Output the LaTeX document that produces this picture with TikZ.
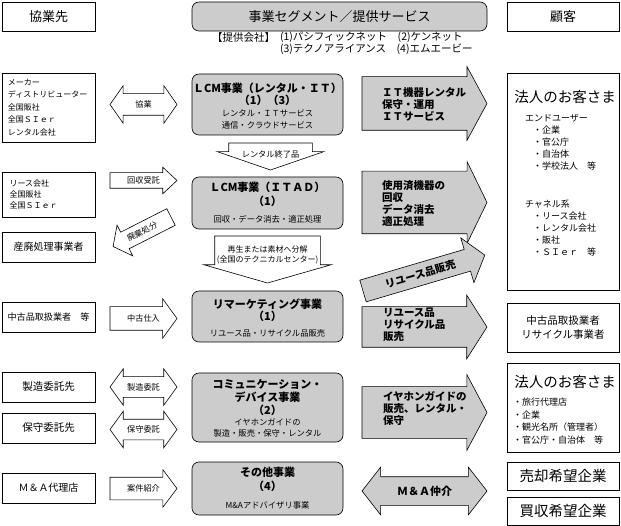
\documentclass[tikz,border=0pt]{standalone}
\usepackage{fontspec}
\setmainfont{Noto Sans CJK JP}
\usetikzlibrary{positioning}
\usetikzlibrary{calc}
\usetikzlibrary{shapes.arrows}

\newcommand{\fsz}[2]{\fontsize{#1}{#2}\selectfont}

\tikzset{
  partner/.style = {draw, fill=white, minimum width=93pt},
  seg/.style = {draw, fill=gray!40, rounded corners=7pt, minimum width=151pt},
  client/.style = {draw, fill=white, minimum width=112pt},
  warrow/.style = {single arrow, draw, fill=white, single arrow head indent=0pt},
  garrow/.style = {single arrow, draw, fill=gray!40, single arrow head indent=0pt},
  wdarrow/.style = {double arrow, draw, fill=white, double arrow head indent=0pt},
  gdarrow/.style = {double arrow, draw, fill=gray!40, double arrow head indent=0pt},
  hdtext/.style = {font=\fsz{13}{15}},
  lbltext/.style = {font=\fsz{8.2}{10}},
  segtitle/.style = {align=center, font=\bfseries\fsz{11}{12}},
  segsub/.style = {align=center, font=\fsz{8.3}{12}},
  gtext/.style = {anchor=west, align=left, font=\bfseries\fsz{10.5}{11.8}},
  custtitle/.style = {font=\fsz{14.5}{16}},
  custlist/.style = {anchor=west, align=left, font=\fsz{9}{12}}
}

\begin{document}
\begin{tikzpicture}
  [x=1pt, y=-1pt,
   every node/.style = {inner sep=0pt, outer sep=0pt, line width=0.6pt}]
  \path[fill=white] (0,0) rectangle (621,526);
  \useasboundingbox (0,0) rectangle (621,526);

  % partners
  \node[partner, minimum height=29pt, hdtext] (hdrL) at (48.5,16.5) {協業先};
  \node[partner, minimum height=69pt, text width=81pt, align=left, font=\fsz{8}{12.4}] (maker) at (48.5,107.5)
    {メーカー\\ディストリビューター\\全国販社\\全国ＳＩｅｒ\\レンタル会社};
  \node[partner, minimum height=45pt, text width=78pt, align=left, font=\fsz{8}{11}] (lease) at (48.5,194.5)
    {リース会社\\全国販社\\全国ＳＩｅｒ};
  \node[partner, minimum height=30pt, font=\fsz{10}{12}] (sanpai) at (48.5,247) {産廃処理事業者};
  \node[partner, minimum height=30pt, font=\fsz{9.1}{11}] (chuko) at (48.5,317) {中古品取扱業者　等};
  \node[partner, minimum height=30pt, font=\fsz{10.5}{12}] (seizo) at (48.5,387) {製造委託先};
  \node[partner, minimum height=30pt, font=\fsz{10.5}{12}] (hoshu) at (48.5,428) {保守委託先};
  \node[partner, minimum height=30pt, font=\fsz{10}{12}] (agent) at (48.5,488) {Ｍ＆Ａ代理店};

  % segments
  \node[seg, minimum width=295pt, minimum height=29pt, hdtext] (hdrM) at (339.5,16.5) {事業セグメント／提供サービス};
  \node[anchor=west, font=\fsz{10.5}{12}] (corp) at (212,37.5) {【提供会社】};
  \node[anchor=west, font=\fsz{10.5}{12}] (corp1) at (280,37.5) {(1)パシフィックネット　(2)ケンネット};
  \node[anchor=west, font=\fsz{10.5}{12}] (corp2) at (280,49) {(3)テクノアライアンス　(4)エムエービー};

  \node[seg, minimum height=61pt] (lcmRent) at (267.5,104.5) {};
  \node[segtitle] (lcmRentT) at (267.5,94) {ＬCM事業（レンタル・ＩＴ）\\（1）（3）};
  \node[segsub] (lcmRentS) at (267.5,119) {レンタル・ＩＴサービス\\通信・クラウドサービス};

  \node[seg, minimum height=52pt] (lcmItad) at (267.5,203) {};
  \node[segtitle, font=\bfseries\fsz{11}{14}] (lcmItadT) at (267.5,194) {ＬCM事業（ＩＴＡＤ）\\（1）};
  \node[segsub] (lcmItadS) at (267.5,219) {回収・データ消去・適正処理};

  \node[seg, minimum height=51pt] (remk) at (267.5,316.5) {};
  \node[segtitle] (remkT) at (267.5,310) {リマーケティング事業\\（1）};
  \node[segsub] (remkS) at (267.5,333) {リユース品・リサイクル品販売};

  \node[seg, minimum height=69pt] (comm) at (267.5,407.5) {};
  \node[segtitle, font=\bfseries\fsz{11}{13}] (commT) at (267.5,398) {コミュニケーション・\\デバイス事業\\（2）};
  \node[segsub, font=\fsz{8.3}{10.5}] (commS) at (267.5,428) {イヤホンガイドの\\製造・販売・保守・レンタル};

  \node[seg, minimum height=53pt] (other) at (267.5,488.5) {};
  \node[segtitle, font=\bfseries\fsz{11}{14}] (otherT) at (267.5,479) {その他事業\\（4）};
  \node[segsub] (otherS) at (267.5,505) {M\&Aアドバイザリ事業};

  % clients
  \node[client, minimum height=29pt, hdtext] (hdrR) at (563,16.5) {顧客};
  \node[client, minimum height=217pt] (custA) at (563,181.5) {};
  \node[custtitle] (custAT) at (565,97) {法人のお客さま};
  \node[custlist] (custAE) at (525,118) {エンドユーザー};
  \node[custlist] (custAEl) at (533,148) {・企業\\・官公庁\\・自治体\\・学校法人　等};
  \node[custlist] (custAC) at (525,204) {チャネル系};
  \node[custlist] (custACl) at (533,234) {・リース会社\\・レンタル会社\\・販社\\・ＳＩｅｒ　等};
  \node[client, minimum height=49pt, align=center, font=\fsz{10.5}{14}] (custUsed) at (563,327.5)
    {中古品取扱業者\\リサイクル事業者};
  \node[client, minimum height=89pt] (custB) at (563,407.5) {};
  \node[custtitle] (custBT) at (565,382) {法人のお客さま};
  \node[custlist, font=\fsz{9}{12.7}] (custBl) at (513,421) {・旅行代理店\\・企業\\・観光名所（管理者）\\・官公庁・自治体　等};
  \node[client, minimum height=28pt, custtitle] (seller) at (563,476) {売却希望企業};
  \node[client, minimum height=28pt, custtitle] (buyer) at (563,511) {買収希望企業};

  % arrows between partners and segments
  \node[wdarrow, minimum height=67pt, inner ysep=10.5pt, double arrow head extend=8pt,
        double arrow tip angle=110] (aKyogyo) at (143.5,104.5) {};
  \node[lbltext] (aKyogyoT) at (aKyogyo) {協業};
  \node[warrow, anchor=tail, minimum height=67pt, inner ysep=7.5pt, single arrow head extend=5.5pt,
        single arrow tip angle=86] (aKaishu) at (110,180.5) {};
  \node[lbltext] (aKaishuT) at ($(aKaishu.tail)!0.5!(aKaishu.tip)$) {回収受託};
  \node[warrow, anchor=tail, rotate=207, minimum height=65pt, inner ysep=9pt, single arrow head extend=8pt,
        single arrow tip angle=105] (aHaiki) at (171,217) {};
  \node[lbltext, rotate=27] (aHaikiT) at ($(aHaiki.tail)!0.5!(aHaiki.tip)$) {廃棄処分};
  \node[warrow, anchor=tail, minimum height=67pt, inner ysep=11.5pt, single arrow head extend=8pt,
        single arrow tip angle=108] (aChuko) at (110,318.5) {};
  \node[lbltext] (aChukoT) at ($(aChuko.tail)!0.5!(aChuko.tip)$) {中古仕入};
  \node[wdarrow, minimum height=67pt, inner ysep=10pt, double arrow head extend=8pt,
        double arrow tip angle=108] (aSeizo) at (143.5,387) {};
  \node[lbltext] (aSeizoT) at (aSeizo) {製造委託};
  \node[wdarrow, minimum height=67pt, inner ysep=10pt, double arrow head extend=8pt,
        double arrow tip angle=108] (aHoshu) at (143.5,429.5) {};
  \node[lbltext] (aHoshuT) at (aHoshu) {保守委託};
  \node[warrow, anchor=tail, minimum height=67pt, inner ysep=11pt, single arrow head extend=7.5pt,
        single arrow tip angle=106] (aAnken) at (110,488.5) {};
  \node[lbltext] (aAnkenT) at ($(aAnken.tail)!0.5!(aAnken.tip)$) {案件紹介};

  % arrows between segments
  \node[warrow, anchor=tail, rotate=-90, minimum height=27pt, inner ysep=41.5pt, single arrow head extend=11.5pt,
        single arrow tip angle=142] (aRentEnd) at (270.5,143) {};
  \node[lbltext] (aRentEndT) at (270.5,154) {レンタル終了品};
  \node[warrow, anchor=tail, rotate=-90, minimum height=47pt, inner ysep=52.5pt, single arrow head extend=11pt,
        single arrow tip angle=148] (aSaisei) at (267.5,236) {};
  \node[lbltext, align=center, font=\fsz{8}{10}] (aSaiseiT) at (267.5,255) {再生または素材へ分解\\(全国のテクニカルセンター)};

  % arrows to clients
  \node[garrow, anchor=tail, minimum height=125pt, inner ysep=26.5pt, single arrow head extend=10pt,
        single arrow tip angle=123] (aIt) at (362,103.5) {};
  \node[gtext] (aItT) at (382,104.5) {ＩＴ機器レンタル\\保守・運用\\ＩＴサービス};
  \node[garrow, anchor=tail, minimum height=125pt, inner ysep=31pt, single arrow head extend=9.5pt,
        single arrow tip angle=128] (aUsed) at (362,202.5) {};
  \node[gtext] (aUsedT) at (382,203.5) {使用済機器の\\回収\\データ消去\\適正処理};
  \node[garrow, anchor=tail, rotate=16.4, minimum height=127pt, inner ysep=11pt, single arrow head extend=12pt,
        single arrow tip angle=104] (aReuse) at (363,291) {};
  \node[gtext, anchor=center, rotate=16.4] (aReuseT) at ($(aReuse.tail)!0.47!(aReuse.tip)$) {リユース品販売};
  \node[garrow, anchor=tail, minimum height=125pt, inner ysep=20pt, single arrow head extend=11.5pt,
        single arrow tip angle=115] (aReuseB) at (362,327) {};
  \node[gtext] (aReuseBT) at (383,325) {リユース品\\リサイクル品\\販売};
  \node[garrow, anchor=tail, minimum height=125pt, inner ysep=25.5pt, single arrow head extend=12pt,
        single arrow tip angle=124] (aEar) at (362,412.5) {};
  \node[gtext] (aEarT) at (383,408.5) {イヤホンガイドの\\販売、レンタル・\\保守};
  \node[gdarrow, minimum height=125pt, inner ysep=14pt, double arrow head extend=9.5pt,
        double arrow tip angle=104] (aMa) at (424.5,491) {};
  \node[gtext, anchor=center, font=\bfseries\fsz{11}{12}] (aMaT) at (aMa) {Ｍ＆Ａ仲介};
\end{tikzpicture}
\end{document}
